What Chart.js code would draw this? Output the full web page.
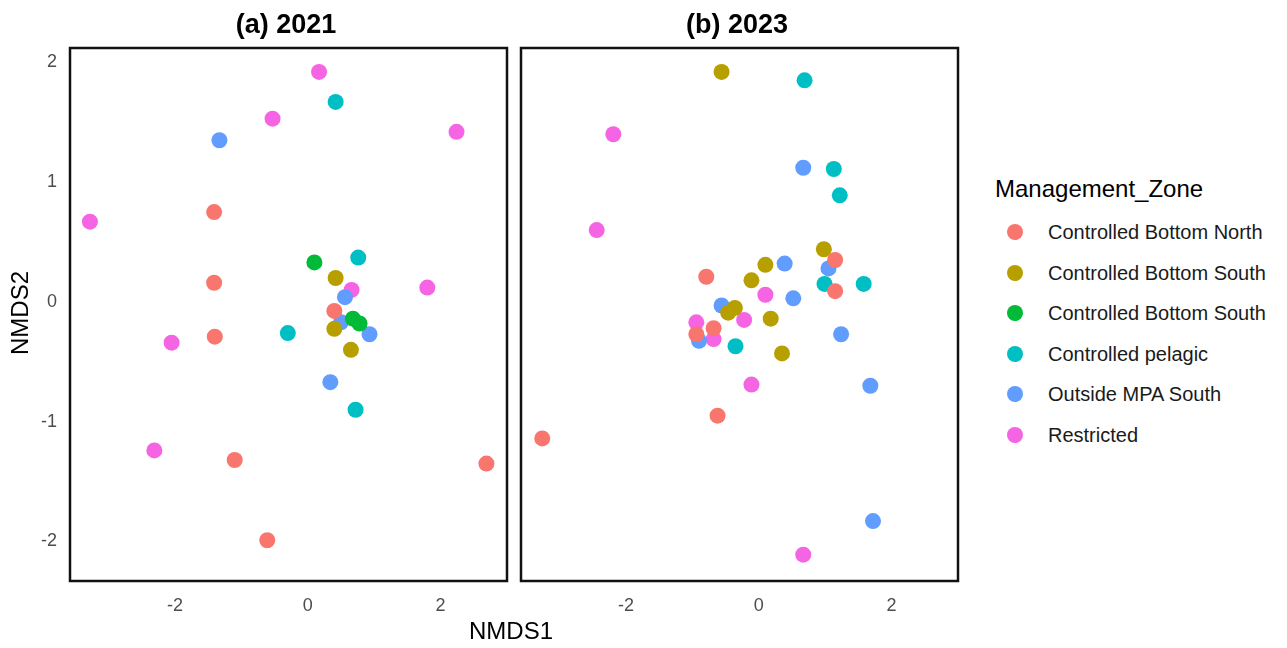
<!DOCTYPE html>
<html>
<head>
<meta charset="utf-8">
<script src="https://cdn.jsdelivr.net/npm/chart.js@4"></script>
<style>
  body { margin: 0; background: #fff; width: 1287px; height: 648px; position: relative; overflow: hidden;
         font-family: "Liberation Sans", Arial, sans-serif; }
  canvas { position: absolute; top: 0; }
  .txt { position: absolute; white-space: nowrap; }
  .ptitle { font-weight: bold; font-size: 27px; color: #000; transform: translateX(-50%); }
  .leg-dot { position: absolute; width: 16px; height: 16px; border-radius: 50%; }
  .leg-lab { position: absolute; font-size: 20px; color: #1a1a1a; line-height: 20px; }
</style>
</head>
<body>
<canvas id="panelA" width="515" height="648" style="left:0"></canvas>
<canvas id="panelB" width="454" height="648" style="left:512px"></canvas>

<div class="txt ptitle" style="left:286px; top:9px">(a) 2021</div>
<div class="txt ptitle" style="left:737px; top:9px">(b) 2023</div>
<div class="txt" style="left:511px; top:617px; font-size:24px; transform:translateX(-50%)">NMDS1</div>
<div class="txt" style="left:20px; top:313px; font-size:24px; transform:translate(-50%,-50%) rotate(-90deg)">NMDS2</div>
<div id="legend"></div>

<script>
// zones and colours (ggplot default hues)
var zones = ['Controlled Bottom North', 'Controlled Bottom South', 'Controlled Bottom South',
             'Controlled pelagic', 'Outside MPA South', 'Restricted'];
var zoneColors = ['#F8766D', '#B79F00', '#00BA38', '#00BFC4', '#619CFF', '#F564E3'];

// NMDS scores, one list per zone
var x2021 = [
    [-1.41, -1.41, 0.40, -1.40, -1.10, 2.69, -0.61],
    [0.42, 0.40, 0.65],
    [0.10, 0.68, 0.78],
    [0.42, 0.76, -0.30, 0.72],
    [-1.33, 0.56, 0.50, 0.93, 0.34],
    [0.17, -0.53, 2.24, -3.28, 0.66, 1.80, -2.05, -2.31]
];
var y2021 = [
    [0.75, 0.16, -0.075, -0.29, -1.32, -1.35, -1.99],
    [0.20, -0.225, -0.40],
    [0.33, -0.14, -0.18],
    [1.67, 0.37, -0.26, -0.90],
    [1.35, 0.04, -0.17, -0.27, -0.67],
    [1.92, 1.53, 1.42, 0.67, 0.10, 0.12, -0.34, -1.24]
];
var x2023 = [
    [1.15, -0.79, 1.15, -0.68, -0.94, -0.62, -3.26],
    [-0.56, 0.98, 0.10, -0.11, -0.36, -0.46, 0.18, 0.35],
    [],
    [0.69, 1.13, 1.22, 0.99, 1.58, -0.35],
    [0.67, 1.05, 0.39, 0.52, -0.56, -0.90, 1.24, 1.68, 1.72],
    [-2.19, -2.44, 0.10, -0.22, -0.94, -0.68, -0.11, 0.67]
];
var y2023 = [
    [0.35, 0.21, 0.09, -0.22, -0.27, -0.95, -1.14],
    [1.92, 0.44, 0.31, 0.18, -0.05, -0.09, -0.14, -0.43],
    [],
    [1.85, 1.11, 0.89, 0.15, 0.15, -0.37],
    [1.12, 0.28, 0.32, 0.03, -0.03, -0.325, -0.27, -0.70, -1.83],
    [1.40, 0.60, 0.06, -0.15, -0.17, -0.31, -0.69, -2.11]
];

var xTicks = [-2, 0, 2];
var yTicks = [-2, -1, 0, 1, 2];
var xRange = [-3.58, 3.0];
var yRange = [-2.33, 2.12];

function makeDatasets(xs, ys) {
    return zones.map(function (z, i) {
        return {
            label: z,
            data: xs[i].map(function (v, j) { return { x: v, y: ys[i][j] }; }),
            backgroundColor: zoneColors[i],
            borderWidth: 0,
            pointRadius: 8,
            pointHoverRadius: 8
        };
    });
}

// black frame round the panel
var framePlugin = {
    id: 'frame',
    afterDraw: function (chart) {
        var a = chart.chartArea, ctx = chart.ctx;
        ctx.save();
        ctx.strokeStyle = '#111';
        ctx.lineWidth = 2.5;
        ctx.strokeRect(a.left, a.top, a.right - a.left, a.bottom - a.top);
        ctx.restore();
    }
};

function makePanel(id, xs, ys, showY, pad) {
    var ctx = document.getElementById(id).getContext('2d');
    return new Chart(ctx, {
        type: 'scatter',
        data: { datasets: makeDatasets(xs, ys) },
        options: {
            responsive: false,
            animation: false,
            devicePixelRatio: 1,
            layout: { padding: pad },
            plugins: { legend: { display: false }, tooltip: { enabled: false } },
            scales: {
                x: {
                    min: xRange[0], max: xRange[1],
                    grid: { display: false, drawTicks: false },
                    border: { display: false },
                    afterBuildTicks: function (s) { s.ticks = xTicks.map(function (v) { return { value: v }; }); },
                    afterFit: function (s) { s.height = 67; },
                    ticks: { padding: 14, color: '#4D4D4D', font: { family: 'Liberation Sans', size: 18 } }
                },
                y: {
                    display: showY,
                    min: yRange[0], max: yRange[1],
                    grid: { display: false, drawTicks: false },
                    border: { display: false },
                    afterBuildTicks: function (s) { s.ticks = yTicks.map(function (v) { return { value: v }; }); },
                    afterFit: function (s) { s.width = showY ? 70 : 0; },
                    ticks: { padding: 13, color: '#4D4D4D', font: { family: 'Liberation Sans', size: 18 } }
                }
            }
        },
        plugins: [framePlugin]
    });
}

makePanel('panelA', x2021, y2021, true, { top: 48, right: 8, left: 0, bottom: 0 });
makePanel('panelB', x2023, y2023, false, { top: 48, right: 3, left: 9, bottom: 0 });

// legend
var leg = document.getElementById('legend');
var t = document.createElement('div');
t.className = 'txt';
t.style.cssText = 'left:995px; top:175px; font-size:24px; color:#000';
t.textContent = 'Management_Zone';
leg.appendChild(t);
zones.forEach(function (z, i) {
    var cy = 232 + i * 40.5;
    var d = document.createElement('div');
    d.className = 'leg-dot';
    d.style.left = (1015 - 8) + 'px';
    d.style.top = (cy - 8) + 'px';
    d.style.background = zoneColors[i];
    leg.appendChild(d);
    var l = document.createElement('div');
    l.className = 'leg-lab';
    l.style.left = '1048px';
    l.style.top = (cy - 10) + 'px';
    l.textContent = z;
    leg.appendChild(l);
});
</script>
</body>
</html>
